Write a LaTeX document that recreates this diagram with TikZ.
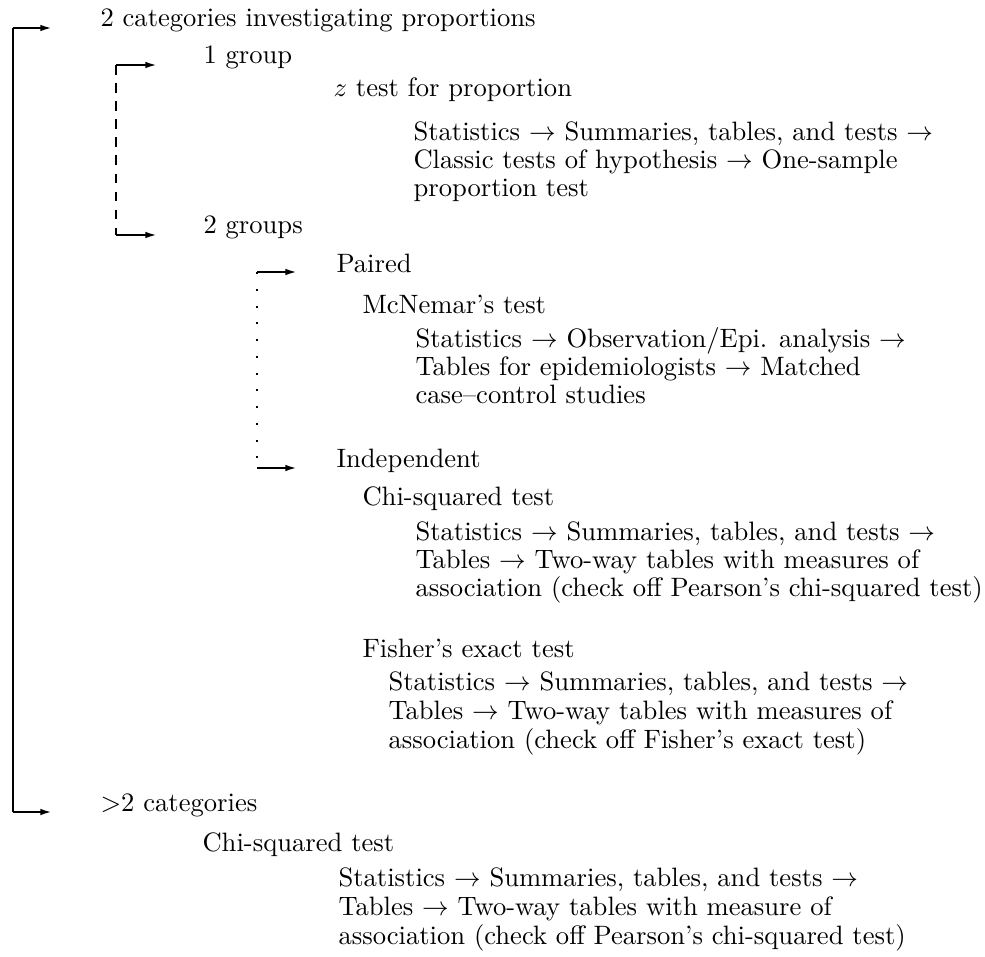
\documentclass[tikz,border=0pt]{standalone}
\usetikzlibrary{arrows.meta}

\begin{document}
\begin{tikzpicture}[x=0.376pt, y=-0.376pt]
        \tikzset{
          every node/.style={anchor=base west, inner sep=0pt},
          branch/.style={thick, -{Latex[length=4.4pt, width=2.5pt]}},
          onegroup/.style={thick, dash pattern=on 3.6pt off 3.2pt},
          twogroup/.style={thick, dash pattern=on 0.8pt off 5.5pt},
        }
        \useasboundingbox (0,0) rectangle (985,956);

        % categories
        \node (top) at (100,27) {2 categories investigating proportions};
        \node (one) at (203,63) {1 group};
        \node (ztest) at (333,96) {\(z\) test for proportion};
        \node (z1) at (413,140) {Statistics \(\rightarrow\) Summaries, tables, and tests \(\rightarrow\)};
        \node (z2) at (413,168) {Classic tests of hypothesis \(\rightarrow\) One-sample};
        \node (z3) at (413,196) {proportion test};
        \node (two) at (203,233) {2 groups};
        \node (paired) at (336,272) {Paired};
        \node (mcn) at (362,313) {McNemar's test};
        \node (mc1) at (415,347) {Statistics \(\rightarrow\) Observation/Epi. analysis \(\rightarrow\)};
        \node (mc2) at (415,375) {Tables for epidemiologists \(\rightarrow\) Matched};
        \node (mc3) at (415,403) {case--control studies};
        \node (indep) at (336,467) {Independent};
        \node (chi) at (362,505) {Chi-squared test};
        \node (ch1) at (415,540) {Statistics \(\rightarrow\) Summaries, tables, and tests \(\rightarrow\)};
        \node (ch2) at (415,568) {Tables \(\rightarrow\) Two-way tables with measures of};
        \node (ch3) at (415,596) {association (check off Pearson's chi-squared test)};
        \node (fish) at (362,657) {Fisher's exact test};
        \node (fi1) at (388,690) {Statistics \(\rightarrow\) Summaries, tables, and tests \(\rightarrow\)};
        \node (fi2) at (388,719) {Tables \(\rightarrow\) Two-way tables with measures of};
        \node (fi3) at (388,748) {association (check off Fisher's exact test)};
        \node (more) at (100,811) {\(>\)2 categories};
        \node (chib) at (202,851) {Chi-squared test};
        \node (cb1) at (338,886) {Statistics \(\rightarrow\) Summaries, tables, and tests \(\rightarrow\)};
        \node (cb2) at (338,915) {Tables \(\rightarrow\) Two-way tables with measure of};
        \node (cb3) at (338,944) {association (check off Pearson's chi-squared test)};

        % branch points
        \coordinate (topc) at (13,28);
        \coordinate (topin) at (52,28);
        \coordinate (morec) at (13,812);
        \coordinate (morein) at (52,812);
        \coordinate (onec) at (116,65);
        \coordinate (onein) at (157,65);
        \coordinate (twoc) at (116,235);
        \coordinate (twoin) at (157,235);
        \coordinate (pairc) at (257,272);
        \coordinate (pairin) at (297,272);
        \coordinate (indc) at (257,468);
        \coordinate (indin) at (297,468);

        \draw[thick] (topc) -- (morec);
        \draw[branch] (topc) -- (topin);
        \draw[branch] (morec) -- (morein);
        \draw[onegroup] (onec) -- (twoc);
        \draw[branch] (onec) -- (onein);
        \draw[branch] (twoc) -- (twoin);
        \draw[twogroup] (pairc) -- (indc);
        \draw[branch] (pairc) -- (pairin);
        \draw[branch] (indc) -- (indin);
\end{tikzpicture}
\end{document}
